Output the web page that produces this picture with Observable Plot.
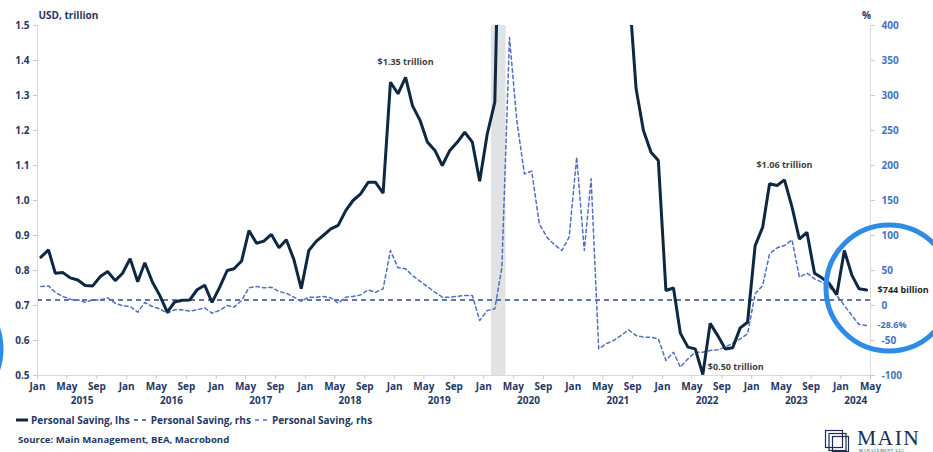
<!DOCTYPE html>
<html><head><meta charset="utf-8">
<script src="https://cdn.jsdelivr.net/npm/d3@7"></script>
<script src="https://cdn.jsdelivr.net/npm/@observablehq/plot@0.6"></script>
<style>
body{margin:0;background:#fff;font-family:"Open Sans",sans-serif;}
#wrap{position:relative;width:933px;height:452px;overflow:hidden;background:#fff;}
#chart{position:absolute;left:0;top:0;}
.legend{position:absolute;left:16px;top:412px;font-size:10px;font-weight:700;color:#1f3864;white-space:nowrap;display:flex;align-items:center;height:16px;}
.legend svg{margin-right:3px;}
.legend span{margin-right:4px;}
.source{position:absolute;left:18px;top:433px;font-size:9.6px;font-weight:700;color:#1f3864;white-space:nowrap;}
#overlay{position:absolute;left:0;top:0;pointer-events:none;}
</style></head><body>
<div id="wrap"><div id="chart"></div>
<div class="legend">
<svg width="12" height="4"><line x1="0" y1="2" x2="12" y2="2" stroke="#0e2841" stroke-width="3"/></svg><span>Personal Saving, lhs</span>
<svg width="14" height="4"><line x1="0" y1="2" x2="14" y2="2" stroke="#2f4a8a" stroke-width="1.5" stroke-dasharray="4,4"/></svg><span>Personal Saving, rhs</span>
<svg width="14" height="4"><line x1="0" y1="2" x2="14" y2="2" stroke="#4f6fbf" stroke-width="1.5" stroke-dasharray="4,4"/></svg><span>Personal Saving, rhs</span>
</div>
<div class="source">Source: Main Management, BEA, Macrobond</div>
<svg id="overlay" width="933" height="452">
<circle cx="889" cy="288" r="63" fill="none" stroke="#2e8be6" stroke-width="5"/>
<circle cx="-61" cy="349" r="62" fill="none" stroke="#2e8be6" stroke-width="5"/>
<g transform="translate(825,430)" fill="none" stroke="#1c2e52" stroke-width="1.2">
<rect x="0.5" y="0.5" width="17" height="17"/><rect x="4" y="3.5" width="17" height="17"/><rect x="7.5" y="6.5" width="16" height="15"/>
</g>
<text x="857" y="444.5" font-family="'Liberation Serif','DejaVu Serif',serif" font-size="21.5" fill="#1c2e52" letter-spacing="1.5">MAIN</text>
<text x="859" y="452" font-family="'Liberation Serif',serif" font-size="4" fill="#1c2e52" letter-spacing="0.6">MANAGEMENT LLC</text>
</svg>
</div>
<script>
// ---- data ----
const startMonth = "2015-01-01";
const xDomain = ["2015-01-01", "2024-05-01"];
const recession = [{start: "2020-02-01", end: "2020-04-01"}];
// Personal saving, USD trillion (lhs), monthly Jan 2015 - Apr 2024
const savingLhs = [
  0.838,0.859,0.792,0.794,0.779,0.773,0.757,0.756,0.783,0.797,0.771,0.792,
  0.834,0.768,0.822,0.767,0.729,0.681,0.710,0.715,0.716,0.745,0.758,0.709,
  0.752,0.800,0.805,0.827,0.914,0.878,0.884,0.903,0.865,0.888,0.831,0.748,
  0.857,0.884,0.900,0.919,0.929,0.971,1.000,1.019,1.052,1.052,1.021,1.338,
  1.305,1.352,1.271,1.229,1.167,1.143,1.100,1.143,1.167,1.195,1.167,1.055,
  1.190,1.281,2.2,6.4,4.6,3.6,3.1,2.7,2.5,2.3,2.2,2.5,
  3.8,2.0,4.9,2.5,2.1,1.9,1.8,1.62,1.319,1.200,1.138,1.114,
  0.743,0.750,0.621,0.581,0.576,0.503,0.649,0.614,0.576,0.579,0.636,0.652,
  0.871,0.924,1.048,1.043,1.059,0.981,0.890,0.909,0.792,0.779,0.762,0.731,
  0.857,0.786,0.748,0.744
];
// Personal saving, % y/y (rhs)
const savingYoY = [
  27,28,18.6,12.9,9,8,4.7,8,8,11,3.3,-0.4,
  -1.4,-9.6,4.3,-1.4,-4.7,-11,-6.1,-6.1,-8.1,-6.1,-3.3,-11,
  -7.1,0,-2.4,7.1,25.3,27.1,25.3,26,20,17.6,11.9,6.1,
  11.9,11.9,12.9,11,3.4,11.9,13,15.2,22.4,19,23.8,78.6,
  53.8,52.4,42.9,34.8,27.1,19,11.9,11.9,13,14.3,14.3,-21.4,
  -7.1,-4.7,54.7,383,264,188,192,116.7,97.6,87.1,78.6,97.6,
  211.9,78.6,181,-61.9,-54.7,-50,-42.9,-34.7,-42.9,-45.3,-45.3,-47.6,
  -78.6,-66.7,-88.1,-76.2,-66.7,-66.7,-64.3,-63.3,-59.5,-53.8,-47.6,-40.5,
  16.7,28.6,73.8,82.4,85.7,93.8,40.5,46.2,38.1,33.3,26.2,14.3,
  0,-14.3,-27.1,-28.6
];
// Personal saving, rhs (flat reference level, %)
const savingRhsLevel = [8];
const lhsTicks = [0.5,0.6,0.7,0.8,0.9,1.0,1.1,1.2,1.3,1.4,1.5];
const rhsTicks = [-100,-50,0,50,100,150,200,250,300,350,400];
const years = [2015,2016,2017,2018,2019,2020,2021,2022,2023,2024];
const annotations = [
  {month: "2019-02-01", value: 1.352, label: "$1.35 trillion", series: "lhs", pos: "above"},
  {month: "2023-05-01", value: 1.059, label: "$1.06 trillion", series: "lhs", pos: "above"},
  {month: "2022-06-01", value: 0.503, label: "$0.50 trillion", series: "lhs", pos: "right-up"},
  {month: "2024-04-01", value: 0.744, label: "$744 billion", series: "lhs", pos: "end"},
  {month: "2024-04-01", value: -28.6, label: "-28.6%", series: "rhs", pos: "end"}
];

// ---- helpers ----
const lhsDomain = [0.5, 1.5], rhsDomain = [-100, 400];
const toL = r => lhsDomain[0] + (r - rhsDomain[0]) / (rhsDomain[1] - rhsDomain[0]) * (lhsDomain[1] - lhsDomain[0]);
const fromL = v => rhsDomain[0] + (v - lhsDomain[0]) / (lhsDomain[1] - lhsDomain[0]) * (rhsDomain[1] - rhsDomain[0]);
const start = new Date(startMonth);
const midMonth = d => d3.utcDay.offset(d, 14);
const data = savingLhs.map((v, i) => ({date: midMonth(d3.utcMonth.offset(start, i)), lhs: v, yoy: savingYoY[i]}));
const domEnd = new Date(xDomain[1]);
const yearMids = years.map(y => {
  const a = Date.UTC(y, 0, 1), b = Math.min(Date.UTC(y + 1, 0, 1), +domEnd);
  return new Date((a + b) / 2);
});
const ann = annotations.map(a => ({...a, date: midMonth(new Date(a.month)), y: a.series === "rhs" ? toL(a.value) : a.value}));

const navy = "#1f3864", tickGray = "#c9c9c9";
const chart = Plot.plot({
  width: 933, height: 410,
  marginLeft: 37, marginRight: 63, marginTop: 25, marginBottom: 35,
  style: {fontFamily: "'Open Sans', sans-serif", fontSize: "10px", fontWeight: 700, background: "white", overflow: "visible"},
  x: {type: "utc", domain: xDomain.map(d => new Date(d))},
  y: {domain: lhsDomain},
  marks: [
    Plot.rect(recession, {x1: d => new Date(d.start), x2: d => new Date(d.end), fill: "#e1e2e3"}),
    Plot.ruleY(savingRhsLevel.map(toL), {stroke: "#2f4a8a", strokeWidth: 1.5, strokeDasharray: "5,4"}),
    Plot.line(data, {x: "date", y: d => toL(d.yoy), stroke: "#4f6fbf", strokeWidth: 1.5, strokeDasharray: "3.5,3", clip: true}),
    Plot.line(data, {x: "date", y: "lhs", stroke: "#0e2841", strokeWidth: 3, clip: true, strokeLinejoin: "miter"}),
    Plot.ruleX(xDomain.map(d => new Date(d)), {stroke: "#d9d9d9"}),
    Plot.ruleY([lhsDomain[0]], {stroke: "#d9d9d9"}),
    Plot.axisY(lhsTicks, {anchor: "left", tickSize: 4, tickPadding: 4, stroke: tickGray, fill: navy, tickFormat: d3.format(".1f"), label: null}),
    Plot.axisY(rhsTicks.map(toL), {anchor: "right", tickSize: 4, tickPadding: 7, stroke: tickGray, fill: "#4472c4", tickFormat: d => String(Math.round(fromL(d))), label: null}),
    Plot.axisX({ticks: d3.utcMonth.every(4), tickFormat: "%b", tickSize: 4, tickPadding: 3, stroke: tickGray, fill: navy, label: null}),
    Plot.axisX(yearMids, {tickSize: 0, tickPadding: 21, tickFormat: "%Y", fill: navy, label: null}),
    Plot.text(["USD, trillion"], {frameAnchor: "top-left", dy: -14, dx: 1, textAnchor: "start", fill: navy, fontWeight: 700}),
    Plot.text(["%"], {frameAnchor: "top-right", dy: -14, dx: -4, textAnchor: "middle", fill: navy, fontWeight: 700}),
    Plot.text(ann.filter(a => a.pos === "above"), {x: "date", y: "y", text: "label", dy: -15, fill: "#404040", fontWeight: 700, fontSize: 9}),
    Plot.text(ann.filter(a => a.pos === "right-up"), {x: "date", y: "y", text: "label", dx: 5, dy: -7, textAnchor: "start", fill: "#404040", fontWeight: 700, fontSize: 9}),
    Plot.text(ann.filter(a => a.pos === "end"), {x: "date", y: "y", text: "label", dx: 11, textAnchor: "start", fill: d => d.series === "rhs" ? "#4a6dbb" : "#262626", fontWeight: 700, fontSize: 9})
  ]
});
document.getElementById("chart").appendChild(chart);
</script>
</body></html>
